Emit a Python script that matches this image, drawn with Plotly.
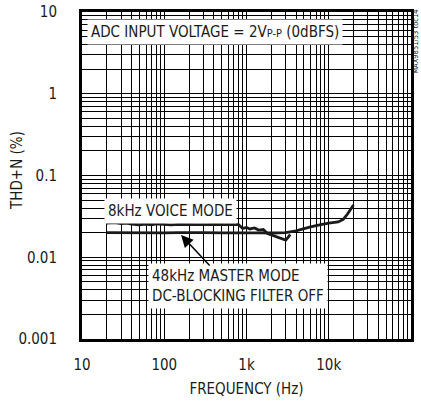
import plotly.graph_objects as go
import numpy as np

# Data
voice_freq = [20, 25, 30, 35, 40, 50, 60, 70, 80, 100, 120, 150, 200, 250, 300, 400, 500, 600,
              700, 800, 900, 1000, 1100, 1250, 1400, 1600, 1800, 2000, 2200, 2500, 2800, 3000, 3200, 3400]
voice_thdn = [0.0262, 0.0265, 0.0258, 0.0262, 0.0255, 0.0250, 0.0254, 0.0250, 0.0256, 0.0252, 0.0249,
              0.0253, 0.0251, 0.0254, 0.0250, 0.0253, 0.0251, 0.0254, 0.0252, 0.0250, 0.0225, 0.0232,
              0.0222, 0.0228, 0.0215, 0.0218, 0.0195, 0.0188, 0.0183, 0.0176, 0.0168, 0.0162, 0.0175, 0.0190]
master_freq = [20, 30, 50, 70, 100, 150, 200, 300, 500, 700, 1000, 1500, 2000, 3000, 4000, 5000,
               6000, 8000, 10000, 13000, 15000, 17000, 20000]
master_thdn = [0.0200, 0.0199, 0.0201, 0.0200, 0.0199, 0.0200, 0.0201, 0.0200, 0.0199, 0.0200,
               0.0201, 0.0199, 0.0198, 0.0200, 0.0210, 0.0225, 0.0235, 0.0250, 0.0262, 0.0270,
               0.0290, 0.0340, 0.0435]

x_major = [10, 100, 1000, 10000, 100000]
x_labels = ["10", "100", "1k", "10k", "100k"]
y_major = [0.001, 0.01, 0.1, 1, 10]
y_labels = ["0.001", "0.01", "0.1", "1", "10"]

FONT = "Liberation Sans Narrow, DejaVu Sans Condensed, Roboto, Arial, sans-serif"
INK = "#1a1a1a"

def grid_vals(major):
    vals = []
    for i, m in enumerate(major):
        for k in range(1, 10):
            if i == len(major) - 1 and k > 1:
                break
            vals.append(m * k)
    return vals

xv = grid_vals(x_major)
xt = [x_labels[x_major.index(v)] if v in x_major else "" for v in xv]
yv = grid_vals(y_major)
ymr = [round(a, 6) for a in y_major]
yt = [y_labels[ymr.index(round(v, 6))] if round(v, 6) in ymr else "" for v in yv]

fig = go.Figure()
fig.add_trace(go.Scatter(x=voice_freq, y=voice_thdn, mode="lines",
                         line=dict(color=INK, width=2.8), showlegend=False))
fig.add_trace(go.Scatter(x=master_freq, y=master_thdn, mode="lines",
                         line=dict(color=INK, width=2.8), showlegend=False))

fig.update_layout(
    width=421, height=402,
    margin=dict(l=82, r=10, t=12, b=63),
    paper_bgcolor="white", plot_bgcolor="white",
    font=dict(family=FONT, size=15, color=INK),
    xaxis=dict(type="log", range=[1, 5], tickvals=xv, ticktext=xt, showgrid=True,
               gridcolor="black", gridwidth=1.2, zeroline=False, ticks="", showline=True,
               linecolor="black", linewidth=3, mirror=True, ticklabelstandoff=10,
               automargin=False,
               title=dict(text="FREQUENCY (Hz)", standoff=11, font=dict(size=15)),
               tickfont=dict(size=15)),
    yaxis=dict(type="log", range=[-3, 1], tickvals=yv, ticktext=yt, showgrid=True,
               gridcolor="black", gridwidth=1.2, zeroline=False, ticks="", showline=True,
               linecolor="black", linewidth=3, mirror=True, ticklabelstandoff=19,
               automargin=False, tickfont=dict(size=15)),
)

fig.add_annotation(xref="paper", yref="paper", x=-0.1976, y=0.517, xanchor="center", yanchor="middle",
                   text="THD+N (%)", textangle=-90, showarrow=False, font=dict(size=15))
fig.add_annotation(xref="paper", yref="paper", x=0.015, y=0.939, xanchor="left", yanchor="middle",
                   text="ADC INPUT VOLTAGE = 2V<span style='font-size:11px'>P-P</span> (0dBFS)",
                   showarrow=False, bgcolor="white", borderpad=3, font=dict(size=15))
fig.add_annotation(xref="paper", yref="paper", x=0.068, y=0.392, xanchor="left", yanchor="middle",
                   text="8kHz VOICE MODE", showarrow=False, bgcolor="white", borderpad=3,
                   font=dict(size=15))
fig.add_annotation(xref="paper", yref="paper", x=0.2, y=0.162, xanchor="left", yanchor="middle",
                   text="48kHz MASTER MODE<br>DC-BLOCKING FILTER OFF", align="left",
                   showarrow=False, bgcolor="white", borderpad=3, font=dict(size=15))
# arrow
fig.add_annotation(x=np.log10(160), y=np.log10(0.0187), xref="x", yref="y",
                   ax=30, ay=32, axref="pixel", ayref="pixel", text="", showarrow=True,
                   arrowhead=2, arrowsize=1.6, arrowwidth=1.5, arrowcolor="black")
fig.add_annotation(xref="paper", yref="paper", x=1.0152, y=1.01, xanchor="center", yanchor="top",
                   text="MAX9851/53 toc14", textangle=-90, showarrow=False, borderpad=0,
                   font=dict(size=7.5))

fig.write_html("out.html")
